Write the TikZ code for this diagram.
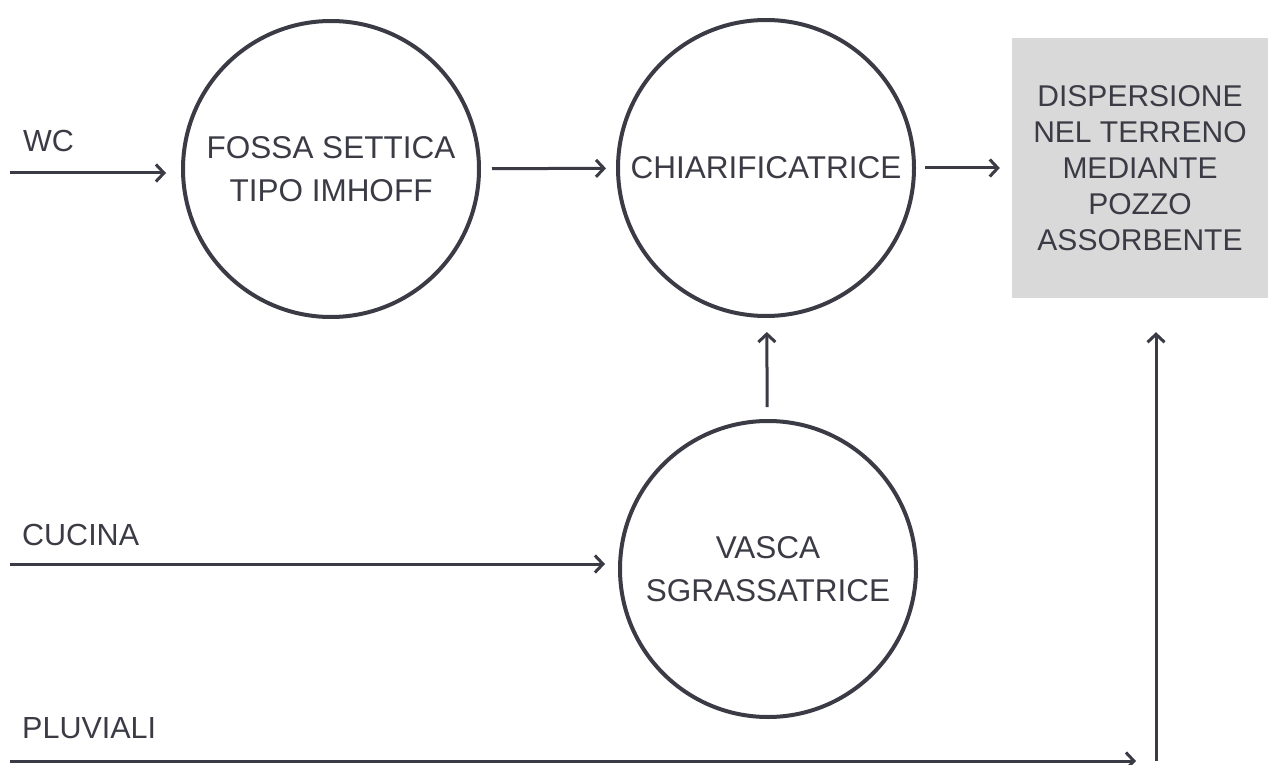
\documentclass[tikz,border=0pt]{standalone}
\usepackage{fontspec}
\setmainfont{Liberation Sans}
\usepackage{xcolor}
\usepackage{tikz}
\usetikzlibrary{arrows.meta}

\definecolor{inkgray}{HTML}{3B3B45}
\definecolor{boxgray}{HTML}{D9D9D9}

\tikzset{
  tank/.style={circle, draw=inkgray, line width=4pt, minimum size=296pt,
    inner sep=0pt, align=center, text=inkgray,
    font=\fontsize{31.5}{43}\selectfont},
  sink/.style={rectangle, fill=boxgray, minimum width=256pt, minimum height=260pt,
    inner sep=0pt, align=center, text=inkgray,
    font=\fontsize{30}{36}\selectfont},
  inlet/.style={anchor=base west, inner sep=0pt, text=inkgray,
    font=\fontsize{30.5}{36}\selectfont},
  flow/.style={draw=inkgray, line width=3pt,
    -{Straight Barb[length=8pt,width=17pt]}},
}

\begin{document}
\begin{tikzpicture}[x=1pt, y=-1pt]
  \useasboundingbox (0,0) rectangle (1280,765);

  \node[tank] (fossa) at (331,169) {FOSSA SETTICA\\TIPO IMHOFF} ; %
  \node[tank] (chiar) at (766,168) {CHIARIFICATRICE} ; %
  \node[tank] (vasca) at (768,569) {VASCA\\SGRASSATRICE} ; %
  \node[sink] (pozzo) at (1140,168) {DISPERSIONE\\NEL TERRENO\\MEDIANTE\\POZZO\\ASSORBENTE} ; %

  \node[inlet] (wc) at (23,152) {WC} ; %
  \node[inlet] (cucina) at (22,545) {CUCINA} ; %
  \node[inlet] (pluviali) at (22,738) {PLUVIALI} ; %

  \coordinate (wcin) at (10,173) ; %
  \coordinate (cucin) at (10,564) ; %
  \coordinate (pluin) at (10,761) ; %
  \coordinate (pluout) at (1136,761) ; %
  \coordinate (riser) at (1156,761) ; %

  \draw[flow, shorten >=15pt] (wcin) -- (wcin -| fossa.west) ;
  \draw[flow, shorten <=11pt, shorten >=10pt] (fossa) -- (chiar) ;
  \draw[flow, shorten <=9pt, shorten >=12pt] (chiar) -- (pozzo) ;
  \draw[flow, shorten <=12pt, shorten >=14pt] (vasca) -- (chiar) ;
  \draw[flow, shorten >=13pt] (cucin) -- (cucin -| vasca.west) ;
  \draw[flow] (pluin) -- (pluout) ;
  \draw[flow, shorten >=34pt] (riser) -- (riser |- pozzo.south) ;
\end{tikzpicture}
\end{document}
